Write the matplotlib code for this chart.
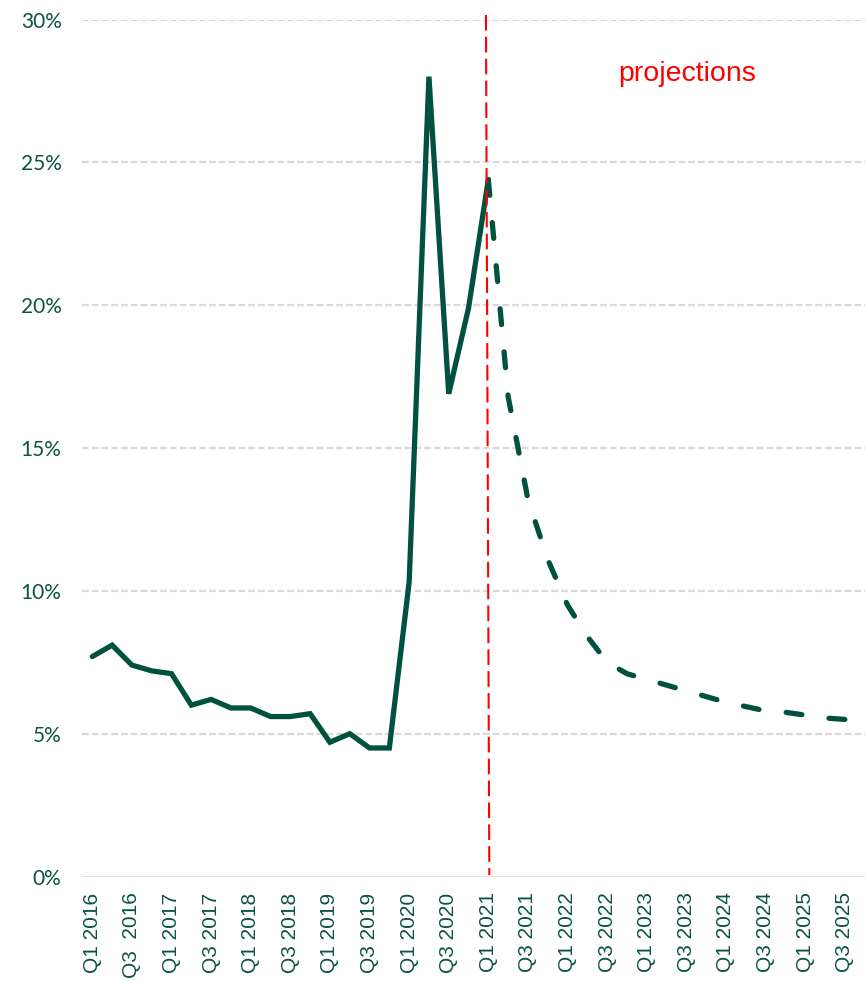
import matplotlib
matplotlib.use("Agg")
import matplotlib.pyplot as plt
import numpy as np

# Quarterly rate (%) — actuals Q1 2016 .. Q1 2021
quarters = [f"Q{q} {y}" for y in range(2016, 2026) for q in range(1, 5)]
actual = [7.7, 8.1, 7.4, 7.2, 7.1, 6.0, 6.2, 5.9, 5.9, 5.6, 5.6, 5.7,
          4.7, 5.0, 4.5, 4.5, 10.3, 28.0, 16.9, 19.9, 24.4]
# Projections Q1 2021 .. Q4 2025
projected = [24.4, 16.8, 13.2, 11.1, 9.5, 8.4, 7.5, 7.1, 6.9, 6.7, 6.5,
             6.3, 6.1, 5.95, 5.8, 5.75, 5.65, 5.55, 5.5, 5.4]

tick_labels = ["Q1 2016", "Q3  2016", "Q1 2017", "Q3 2017", "Q1 2018",
               "Q3 2018", "Q1 2019", "Q3 2019", "Q1 2020", "Q3 2020",
               "Q1 2021", "Q3 2021", "Q1 2022", "Q3 2022", "Q1 2023",
               "Q3 2023", "Q1 2024", "Q3 2024", "Q1 2025", "Q3 2025"]
y_ticks = [0, 5, 10, 15, 20, 25, 30]

GREEN = "#00523f"
LABEL = "#0b5345"
GRID = "#d9d9d9"

fig = plt.figure(figsize=(8.65, 9.81), dpi=100)
ax = fig.add_axes([0.0953, 0.1065, 0.9156, 0.8736])

x_act = np.arange(len(actual))
x_proj = np.arange(len(actual) - 1, len(actual) - 1 + len(projected))

for y in y_ticks[1:]:
    ax.axhline(y, color=GRID, lw=1.6, linestyle=(0, (3.0, 1.4)), zorder=0)
ax.axhline(0, color=GRID, lw=1.8, zorder=0)

ax.plot(x_proj, projected, color=GREEN, lw=3.8, linestyle=(0, (3.0, 5.2)),
        dash_capstyle="round", solid_joinstyle="round", zorder=3)
ax.plot(x_act, actual, color=GREEN, lw=3.8, solid_joinstyle="miter",
        solid_capstyle="round", zorder=4)

# boundary between actuals and projections
ax.plot([19.88, 20.05], [30.16, 0.05], color="#ff0000", lw=1.5,
        linestyle=(0, (7.5, 3.0)), clip_on=False, zorder=5)
ax.text(26.55, 27.85, "projections", color="#ff0000", fontsize=20.5,
        family="Liberation Sans", ha="left", va="baseline")

ax.set_xlim(-0.5, 39.5)
ax.set_ylim(0, 30)
ax.set_xticks(np.arange(0, 40, 2))
ax.set_xticklabels(tick_labels, rotation=90, fontsize=15,
                   family="Liberation Sans", color=LABEL)
ax.set_yticks(y_ticks)
ax.set_yticklabels([f"{v}%" for v in y_ticks], fontsize=15,
                   family="Lato", color=LABEL)
ax.tick_params(axis="x", length=0, pad=11.5)
ax.tick_params(axis="y", length=0, pad=15)
for s in ax.spines.values():
    s.set_visible(False)

fig.savefig("out.png", dpi=100)
